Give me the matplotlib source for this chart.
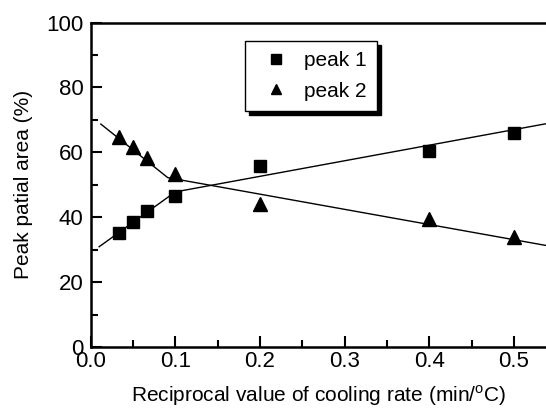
import matplotlib.pyplot as plt
from matplotlib.ticker import MultipleLocator

plt.rcParams['font.family'] = ['Liberation Sans', 'DejaVu Sans']
plt.rcParams['mathtext.fontset'] = 'custom'
plt.rcParams['mathtext.rm'] = 'Liberation Sans'

# measured points
x_pts = [0.033, 0.05, 0.067, 0.1, 0.2, 0.4, 0.5]
peak1 = [35.2, 38.6, 42.0, 46.5, 55.8, 60.4, 66.0]
peak2 = [64.8, 61.5, 58.1, 53.2, 44.0, 39.3, 34.0]

# fitted guide lines (two segments each)
fit1_x = [0.010, 0.100, 0.540]
fit1_y = [30.9, 47.8, 68.9]
fit2_x = [0.012, 0.091, 0.540]
fit2_y = [68.7, 52.2, 31.2]

fig = plt.figure(figsize=(5.46, 4.13), dpi=100)
ax = fig.add_axes([0.1661, 0.1598, 0.8339, 0.7857])

ax.plot(fit1_x, fit1_y, color='black', linewidth=1.0)
ax.plot(fit2_x, fit2_y, color='black', linewidth=1.0)
ax.plot(x_pts, peak1, linestyle='None', marker='s', markersize=8.5,
        color='black', label='peak 1')
ax.plot(x_pts, peak2, linestyle='None', marker='^', markersize=9.5,
        color='black', label='peak 2')

ax.set_xlim(0, 0.538)
ax.set_ylim(0, 100)
ax.xaxis.set_major_locator(MultipleLocator(0.1))
ax.xaxis.set_minor_locator(MultipleLocator(0.05))
ax.yaxis.set_major_locator(MultipleLocator(20))
ax.yaxis.set_minor_locator(MultipleLocator(10))
ax.tick_params(which='both', direction='in', width=1.5, labelsize=16)
ax.tick_params(which='major', length=8)
ax.tick_params(which='minor', length=5)
ax.tick_params(axis='x', pad=3)
ax.tick_params(axis='y', pad=5)
ax.xaxis.set_major_formatter(lambda v, p: f'{v:.1f}')
ax.yaxis.set_major_formatter(lambda v, p: f'{v:.0f}')

for s in ['left', 'bottom', 'top']:
    ax.spines[s].set_linewidth(1.8)
ax.spines['right'].set_visible(False)

ax.set_xlabel(r'Reciprocal value of cooling rate (min/$^{\mathrm{o}}$C)',
              fontsize=15, labelpad=8)
ax.set_ylabel('Peak patial area (%)', fontsize=15, labelpad=10)

leg = ax.legend(loc='upper left', bbox_to_anchor=(0.338, 0.944), fontsize=15,
                frameon=True, fancybox=False, edgecolor='black',
                shadow={'color': 'black', 'alpha': 1.0, 'ox': 3, 'oy': -3},
                borderaxespad=0, handletextpad=0.36, borderpad=0.5,
                labelspacing=0.55, markerscale=0.8, handlelength=2.0)
leg.get_frame().set_linewidth(1.0)

fig.savefig('out.png', dpi=100)
